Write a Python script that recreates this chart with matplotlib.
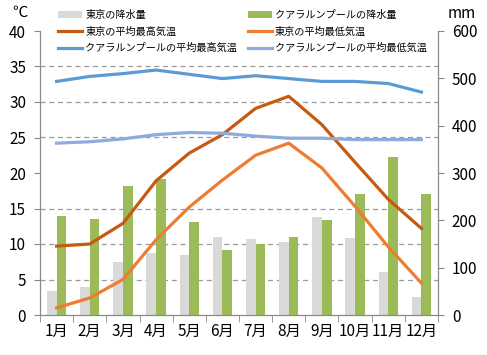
import matplotlib
matplotlib.use('Agg')
import matplotlib.pyplot as plt
import numpy as np

plt.rcParams['font.family'] = ['Noto Sans CJK JP', 'DejaVu Sans']

months = ['1月', '2月', '3月', '4月', '5月', '6月', '7月', '8月', '9月', '10月', '11月', '12月']

# precipitation (mm)
tokyo_rain = [50, 60, 113, 130, 127, 164, 161, 154, 208, 163, 91, 38]
kl_rain = [209, 203, 273, 287, 197, 138, 149, 164, 200, 256, 333, 256]

# temperatures (deg C)
tokyo_high = [9.7, 10.0, 12.9, 18.9, 22.8, 25.4, 29.1, 30.8, 26.8, 21.5, 16.3, 12.2]
tokyo_low = [1.0, 2.4, 5.0, 10.6, 15.2, 19.0, 22.5, 24.2, 20.7, 15.3, 9.6, 4.5]
kl_high = [32.9, 33.6, 34.0, 34.5, 33.9, 33.3, 33.7, 33.3, 32.9, 32.9, 32.6, 31.4]
kl_low = [24.2, 24.4, 24.8, 25.4, 25.7, 25.6, 25.2, 24.9, 24.9, 24.7, 24.7, 24.7]

fig = plt.figure(figsize=(4.87, 3.55), dpi=100)
ax = fig.add_axes([40 / 487, 1 - 315 / 355, 398 / 487, 284 / 355])
ax2 = ax.twinx()
ax.set_zorder(ax2.get_zorder() + 1)
ax.patch.set_visible(False)

x = np.arange(len(months))
w = 0.29
grid_c = '#9a9a9a'
spine_c = '#898989'

# bars on the right (mm) axis, behind the lines
b1 = ax2.bar(x - w / 2, tokyo_rain, w, color='#d9d9d9', label='東京の降水量')
b2 = ax2.bar(x + w / 2, kl_rain, w, color='#9bbb59', label='クアラルンプールの降水量')
ax2.set_ylim(0, 600)
ax2.set_yticks(np.arange(0, 601, 100))
ax2.set_yticks(np.arange(0, 601, 75), minor=True)
ax2.grid(which='minor', axis='y', color=grid_c, linestyle=(0, (4, 3)), linewidth=0.9)
ax2.set_axisbelow(True)
ax2.tick_params(axis='y', which='minor', length=0)
ax2.tick_params(axis='y', which='major', length=4, color=spine_c, labelsize=11, pad=6)

l1, = ax.plot(x, tokyo_high, color='#c55a11', lw=2.3, label='東京の平均最高気温')
l2, = ax.plot(x, tokyo_low, color='#ed7d31', lw=2.3, label='東京の平均最低気温')
l3, = ax.plot(x, kl_high, color='#5b9bd5', lw=2.3, label='クアラルンプールの平均最高気温')
l4, = ax.plot(x, kl_low, color='#8faadc', lw=2.3, label='クアラルンプールの平均最低気温')
ax.set_ylim(0, 40)
ax.set_yticks(np.arange(0, 41, 5))
ax.set_xlim(-0.5, 11.5)
ax.set_xticks(x)
ax.set_xticklabels(months)
ax.set_xticks(np.arange(-0.5, 12, 1), minor=True)
ax.tick_params(axis='x', which='major', length=0, labelsize=11, pad=6)
ax.tick_params(axis='x', which='minor', length=5, color=spine_c)
ax.tick_params(axis='y', length=4, color=spine_c, labelsize=11, pad=6)

for a in (ax, ax2):
    a.spines['top'].set_visible(False)
    for s in ('left', 'right', 'bottom'):
        a.spines[s].set_color(spine_c)

fig.text(12 / 487, 1 - 12 / 355, '℃', fontsize=11, ha='left', va='center')
fig.text(448 / 487, 1 - 13 / 355, 'mm', fontsize=11, ha='left', va='center')

fig.legend([b1, l1, l3, b2, l2, l4],
           ['東京の降水量', '東京の平均最高気温', 'クアラルンプールの平均最高気温',
            'クアラルンプールの降水量', '東京の平均最低気温', 'クアラルンプールの平均最低気温'],
           ncol=2, loc='upper left', bbox_to_anchor=(50 / 487, 1 - 2 / 355),
           fontsize=7.3, frameon=True, facecolor='white', edgecolor='none', framealpha=1,
           handlelength=2.4, handleheight=0.6, columnspacing=1.0, labelspacing=0.62,
           handletextpad=0.3, borderpad=0.3, fancybox=False)

fig.savefig('out.png', dpi=100)
